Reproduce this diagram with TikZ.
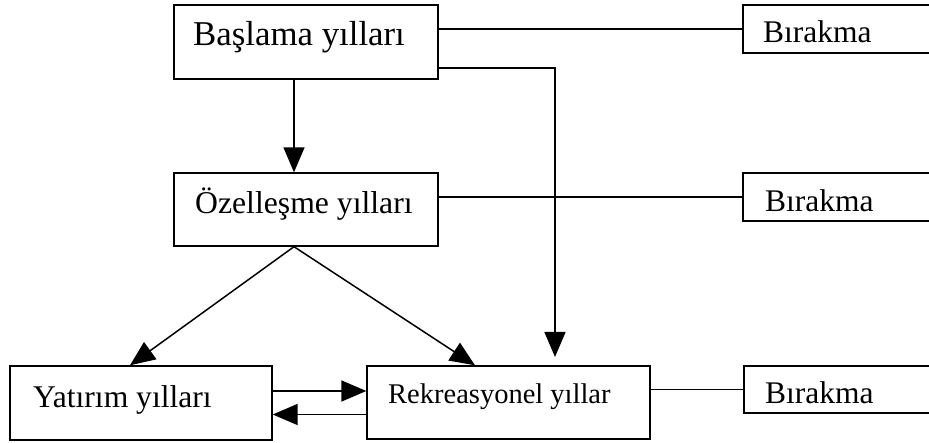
\documentclass[tikz,border=0pt]{standalone}
\usepackage{fontspec}
\setmainfont{Liberation Serif}
\usetikzlibrary{arrows.meta}
\tikzset{
  box/.style={draw, line width=1.4pt, rectangle, inner sep=0pt},
  lbl/.style={anchor=base west, inner sep=0pt, font=\fontsize{#1}{#1}\selectfont},
  lbl/.default=32,
  conn/.style={line width=1.5pt},
  arr/.style={line width=1.5pt, -{Triangle[length=25pt, width=21pt]}},
}
\begin{document}
\begin{tikzpicture}[x=1pt, y=-1pt]
\useasboundingbox (0,0) rectangle (929,443);
\clip (0,0) rectangle (929,443);
% boxes
\node[box, minimum width=264pt, minimum height=74pt] (bas) at (306,42) {};
\node[box, minimum width=264pt, minimum height=73pt] (oze) at (306,209.5) {};
\node[box, minimum width=262pt, minimum height=74pt] (yat) at (141,403) {};
\node[box, minimum width=283pt, minimum height=73pt] (rek) at (508.5,402.5) {};
\node[box, minimum width=220pt, minimum height=48pt] (bir1) at (853,29) {};
\node[box, minimum width=220pt, minimum height=48pt] (bir2) at (853,197) {};
\node[box, minimum width=220pt, minimum height=47pt] (bir3) at (854,389.5) {};
% texts
\node[lbl=34.8] (tbas) at (193,46) {Başlama yılları};
\node[lbl=31.7] (toze) at (195,214) {Özelleşme yılları};
\node[lbl=31.6] (tyat) at (33,407) {Yatırım yılları};
\node[lbl=28.5] (trek) at (388,403) {Rekreasyonel yıllar};
\node[lbl=31.5] (tbir1) at (763,43) {Bırakma};
\node[lbl=31.5] (tbir2) at (765,212) {Bırakma};
\node[lbl=31.5] (tbir3) at (765,403) {Bırakma};
% connectors
\coordinate (rekin) at (555,357);
\draw[conn] (bir1.west -| bas.east) -- (bir1.west);
\draw[conn] (bir2.west -| oze.east) -- (bir2.west);
\draw[conn] (bir3.west -| rek.east) -- (bir3.west);
\draw[arr] ([yshift=-26pt]bas.east) -| (rekin);
\draw[arr] ([xshift=-12pt]bas.south) -- ([xshift=-12pt]oze.north);
\draw[arr] ([xshift=-12pt]oze.south) -- ([xshift=-11pt]yat.north);
\draw[arr] ([xshift=-12pt]oze.south) -- ([xshift=-33.5pt]rek.north);
\draw[arr] ([yshift=12pt]yat.east) -- ([yshift=12pt]yat.east -| rek.west);
\draw[arr] ([yshift=-12pt]rek.west) -- ([yshift=-12pt]rek.west -| yat.east);
\end{tikzpicture}
\end{document}
